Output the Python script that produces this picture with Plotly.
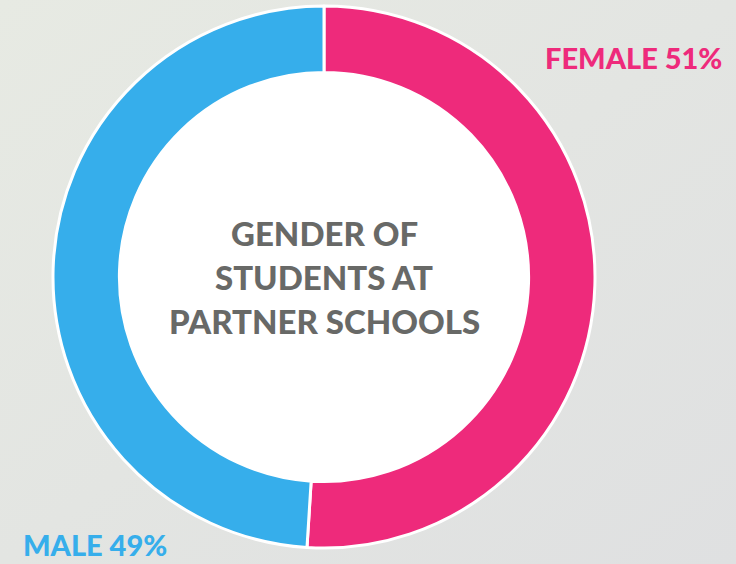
import plotly.graph_objects as go

# Share of students at partner schools, by gender
labels = ["FEMALE", "MALE"]
shares = [51, 49]
colors = ["#ee2a7b", "#36aeeb"]
title_lines = ["GENDER OF", "STUDENTS AT", "PARTNER SCHOOLS"]

W, H = 736, 564
cx, cy, r = 324, 277, 271  # donut centre / outer radius in pixels (cy from top)
hole = 0.755

fig = go.Figure(
    go.Pie(
        labels=labels,
        values=shares,
        hole=hole,
        sort=False,
        direction="clockwise",
        rotation=0,
        textinfo="none",
        hoverinfo="label+percent",
        marker=dict(colors=colors, line=dict(color="white", width=3)),
        domain=dict(
            x=[(cx - r) / W, (cx + r) / W],
            y=[(H - cy - r) / H, (H - cy + r) / H],
        ),
        showlegend=False,
    )
)

# soft diagonal backdrop
bg_svg = (
    "data:image/svg+xml;utf8,"
    "<svg xmlns='http://www.w3.org/2000/svg' width='736' height='564'>"
    "<defs><linearGradient id='g' x1='0' y1='0' x2='1' y2='1'>"
    "<stop offset='0' stop-color='%23e7eae3'/>"
    "<stop offset='1' stop-color='%23dfe0e1'/>"
    "</linearGradient></defs>"
    "<rect width='736' height='564' fill='url(%23g)'/></svg>"
)
fig.add_layout_image(
    dict(source=bg_svg, xref="paper", yref="paper", x=0, y=1, sizex=1, sizey=1,
         xanchor="left", yanchor="top", sizing="stretch", layer="below")
)

# white disc filling the donut hole
ri = r * hole + 1
fig.add_shape(
    type="circle", xref="paper", yref="paper", layer="below",
    x0=(cx - ri) / W, x1=(cx + ri) / W,
    y0=(H - cy - ri) / H, y1=(H - cy + ri) / H,
    fillcolor="white", line=dict(width=0),
)

label_font = dict(family="Lato", size=29, weight=900)
total = sum(shares)
fig.add_annotation(
    text=f"{labels[0]} {round(100 * shares[0] / total)}%",
    x=724 / W, y=1 - 57 / H, xref="paper", yref="paper",
    xanchor="right", yanchor="middle", showarrow=False,
    font=dict(color=colors[0], **label_font),
)
fig.add_annotation(
    text=f"{labels[1]} {round(100 * shares[1] / total)}%",
    x=21 / W, y=0, xref="paper", yref="paper",
    xanchor="left", yanchor="bottom", showarrow=False,
    font=dict(color=colors[1], **label_font),
)

for i, line in enumerate(title_lines):
    fig.add_annotation(
        text=line,
        x=cx / W, y=1 - (233 + 44 * i) / H, xref="paper", yref="paper",
        xanchor="center", yanchor="middle", showarrow=False,
        font=dict(family="Lato", size=33, weight=900, color="#686967"),
    )

fig.update_layout(
    width=W, height=H,
    margin=dict(l=0, r=0, t=0, b=0),
    paper_bgcolor="#e3e5e2",
    plot_bgcolor="rgba(0,0,0,0)",
)

fig.write_html("out.html")
